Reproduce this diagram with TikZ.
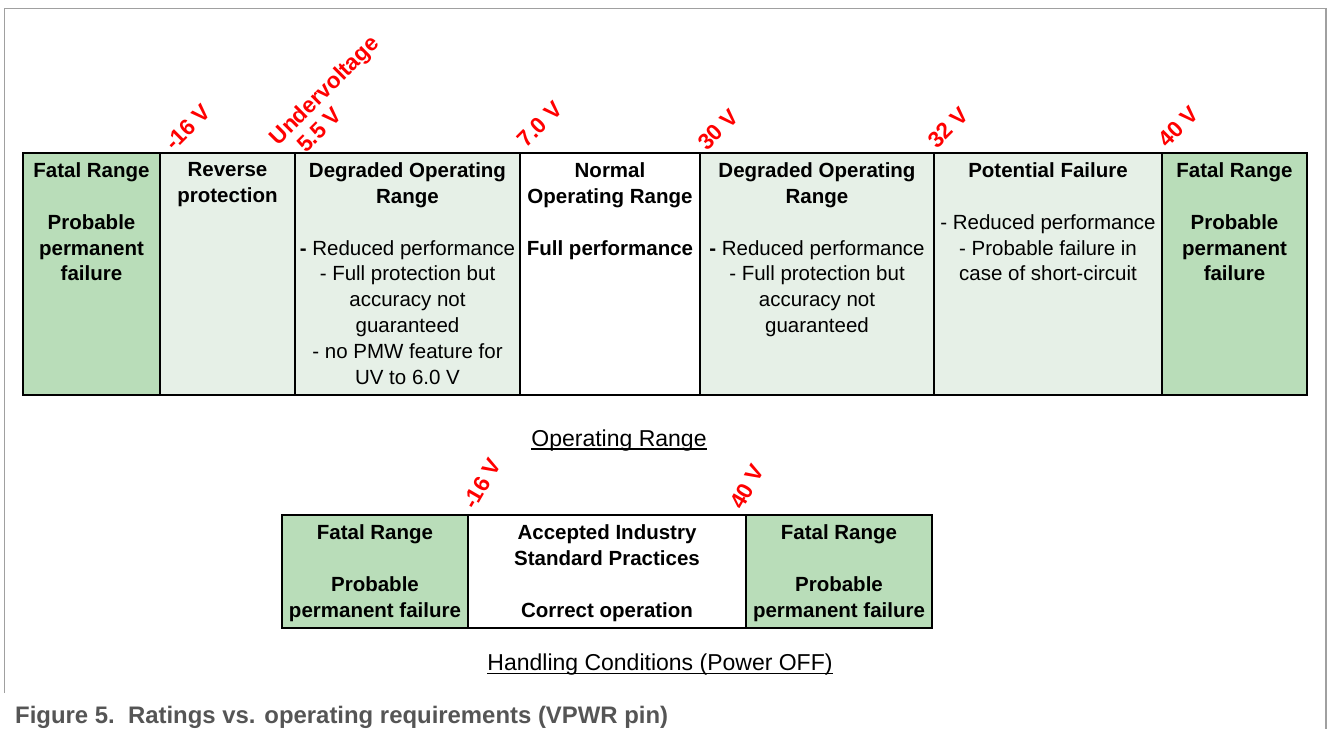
\documentclass[tikz,border=0pt]{standalone}
\usepackage{fontspec}
\setmainfont{Liberation Sans}
\usetikzlibrary{calc}
\definecolor{fatalg}{RGB}{185,221,185}
\definecolor{lightg}{RGB}{230,240,231}
\definecolor{framegray}{RGB}{160,160,160}
\definecolor{capgray}{RGB}{85,85,85}
\newcommand\tabfont{\fontsize{20.5}{25.9}\selectfont}
\newcommand\voltfont{\fontsize{22.5}{24.7}\selectfont\bfseries}
\newcommand\labfont{\fontsize{23}{27}\selectfont}
\newcommand\capfont{\fontsize{23.9}{28}\selectfont\bfseries}
\begin{document}
\begin{tikzpicture}[x=1pt,y=-1pt,
  cellbox/.style={draw=black,line width=1.3pt,anchor=north west,inner sep=0pt,outer sep=0pt,minimum height=#1},
  celltext/.style={anchor=north,align=center,inner sep=0pt,font=\tabfont},
  volt/.style={text=red,font=\voltfont,anchor=base west,inner sep=0pt},
  lab/.style={font=\labfont,anchor=base,inner sep=0pt},
  uline/.style={line width=1.2pt}]
\useasboundingbox (0,0) rectangle (1328,729);
% frame
\draw[framegray,line width=1.5pt] (4.5,693) -- (4.5,8.5) -- (1326,8.5) -- (1326,729);

% ---------- top table ----------
\node[cellbox=242pt,fill=fatalg,minimum width=137pt] (t1) at (23,153) {};
\node[cellbox=242pt,fill=lightg,minimum width=135pt] (t2) at (160,153) {};
\node[cellbox=242pt,fill=lightg,minimum width=225pt] (t3) at (295,153) {};
\node[cellbox=242pt,fill=white,minimum width=180pt] (t4) at (520,153) {};
\node[cellbox=242pt,fill=lightg,minimum width=234pt] (t5) at (700,153) {};
\node[cellbox=242pt,fill=lightg,minimum width=228pt] (t6) at (934,153) {};
\node[cellbox=242pt,fill=fatalg,minimum width=145pt] (t7) at (1162,153) {};

\node[celltext] (x1) at ($(t1.north)+(0,9.3)$) {\bfseries Fatal Range\\[25.9pt]\bfseries Probable\\\bfseries permanent\\\bfseries failure};
\node[celltext] (x2) at ($(t2.north)+(0,9.3)$) {\bfseries Reverse\\\bfseries protection};
\node[celltext] (x3) at ($(t3.north)+(0,9.3)$) {\bfseries Degraded Operating\\\bfseries Range\\[25.9pt]\textbf{-} Reduced performance\\- Full protection but\\accuracy not\\guaranteed\\- no PMW feature for\\UV to 6.0 V};
\node[celltext] (x4) at ($(t4.north)+(0,9.3)$) {\bfseries Normal\\\bfseries Operating Range\\[25.9pt]\bfseries Full performance};
\node[celltext] (x5) at ($(t5.north)+(0,9.3)$) {\bfseries Degraded Operating\\\bfseries Range\\[25.9pt]\textbf{-} Reduced performance\\- Full protection but\\accuracy not\\guaranteed};
\node[celltext] (x6) at ($(t6.north)+(0,9.3)$) {\bfseries Potential Failure\\[25.9pt]- Reduced performance\\- Probable failure in\\case of short-circuit};
\node[celltext] (x7) at ($(t7.north)+(0,9.3)$) {\bfseries Fatal Range\\[25.9pt]\bfseries Probable\\\bfseries permanent\\\bfseries failure};

% voltage labels (top)
\node[volt,rotate=45] (v1) at (174,152) {-16 V};
\node[volt,rotate=45,align=left] (v2) at (296,164) {Undervoltage\\\hspace*{14pt}5.5 V};
\node[volt,rotate=45] (v4) at (526.5,148.5) {7.0 V};
\node[volt,rotate=45] (v5) at (707,151.5) {30 V};
\node[volt,rotate=45] (v6) at (937,149.5) {32 V};
\node[volt,rotate=45] (v7) at (1167.5,148.5) {40 V};

% label
\node[lab] (op) at (619,446) {Operating Range};
\draw[uline] ($(op.base west)+(0,3)$) -- ($(op.base east)+(0,3)$);

% ---------- bottom table ----------
\node[cellbox=113pt,fill=fatalg,minimum width=186pt] (b1) at (282,515) {};
\node[cellbox=113pt,fill=white,minimum width=278pt] (b2) at (468,515) {};
\node[cellbox=113pt,fill=fatalg,minimum width=186pt] (b3) at (746,515) {};

\node[celltext] (y1) at ($(b1.north)+(0,9.3)$) {\bfseries Fatal Range\\[25.9pt]\bfseries Probable\\\bfseries permanent failure};
\node[celltext] (y2) at ($(b2.north)+(0,9.3)$) {\bfseries Accepted Industry\\\bfseries Standard Practices\\[25.9pt]\bfseries Correct operation};
\node[celltext] (y3) at ($(b3.north)+(0,9.3)$) {\bfseries Fatal Range\\[25.9pt]\bfseries Probable\\\bfseries permanent failure};

\node[volt,rotate=60] (w1) at (475,511) {-16 V};
\node[volt,rotate=60] (w2) at (742,511) {40 V};

\node[lab] (hc) at (660,670.5) {Handling Conditions (Power OFF)};
\draw[uline] ($(hc.base west)+(0,3)$) -- ($(hc.base east)+(0,3)$);

% caption
\node[font=\capfont,text=capgray,anchor=base west,inner sep=0pt] (cap) at (15,723) {Figure 5.\ \ Ratings vs. operating requirements (VPWR pin)};
\end{tikzpicture}
\end{document}
